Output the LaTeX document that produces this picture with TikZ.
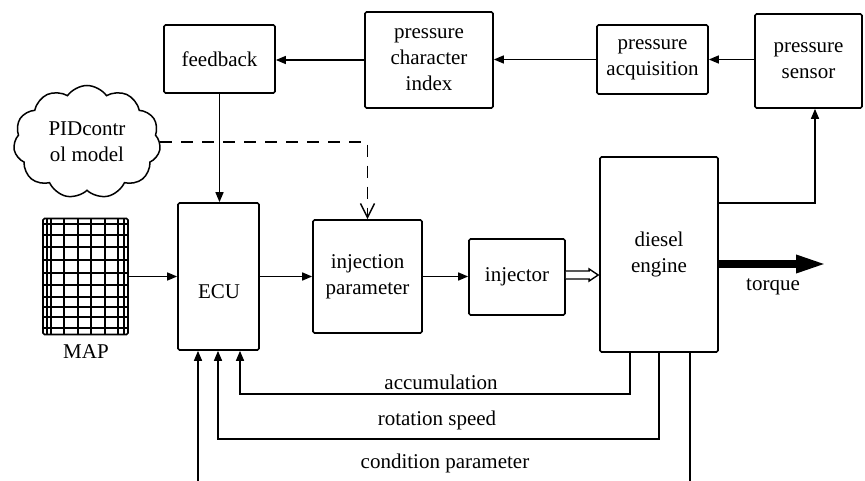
\documentclass[tikz,border=0pt]{standalone}
\usepackage{fontspec}
\setmainfont{Liberation Serif}
\usetikzlibrary{arrows.meta,shapes.symbols,calc}
\begin{document}
\begin{tikzpicture}[x=1pt,y=-1pt,
  txt/.style={font=\fontsize{21}{26}\selectfont},
  box/.style={draw,line width=1.7pt,rounded corners=1.5pt,align=center,inner sep=0pt,txt},
  ln/.style={line width=1.5pt},
  arr/.style={ln,-{Triangle[length=10pt,width=8pt]}}]
\useasboundingbox (0,0) rectangle (865,481);
\clip (0,0) rectangle (865,481);
% boxes
\node[box,minimum width=111pt,minimum height=68pt] (fb) at (219.5,59) {feedback};
\node[box,minimum width=128pt,minimum height=96pt] (pci) at (429,60) {pressure\\character\\index};
\node[box,minimum width=111pt,minimum height=69pt] (acq) at (652.5,59.5) {pressure\\acquisition};
\node[box,minimum width=107pt,minimum height=94pt] (sens) at (808.5,61) {pressure\\sensor};
\node[box,minimum width=81pt,minimum height=147pt] (ecu) at (218.5,276.5) {};
\node[txt] (ecut) at (219,292) {ECU};
\node[box,minimum width=109pt,minimum height=113pt] (ip) at (367.5,276.5) {injection\\parameter};
\node[box,minimum width=96pt,minimum height=76pt] (inj) at (517,277) {injector};
\node[box,minimum width=118pt,minimum height=195pt] (eng) at (659,254.5) {diesel\\engine};
\node[draw,cloud,cloud puffs=11,cloud puff arc=110,aspect=1.3,line width=1.5pt,inner sep=0pt,
      minimum width=147pt,minimum height=113pt,align=center,txt] (pid) at (87,142) {PIDcontr\\ol model};
% MAP grid
\node[draw,line width=1.6pt,rounded corners=1.5pt,minimum width=85pt,minimum height=116pt,inner sep=0pt] (map) at (85.5,276.5) {};
\foreach \gx in {47,51,64,78,91,105,118,124}
  \draw[line width=1.5pt] (\gx,218.5) -- (\gx,334.5);
\foreach \gy in {224,235,247,260,273,285,297,307,317,328}
  \draw[line width=1.5pt] (43,\gy) -- (128,\gy);
\node[txt] (maplbl) at (86,352) {MAP};
% top chain
\draw[arr] (sens.west |- acq.east) -- (acq.east);
\draw[arr] (acq.west) -- (pci.east |- acq.west);
\draw[arr] (pci.west) -- (fb.east |- pci.west);
\draw[arr] (fb.south) -- (fb.south |- ecu.north);
% middle chain
\draw[arr] (map.east) -- (ecu.west |- map.east);
\draw[arr] (ecu.east) -- (ip.west |- ecu.east);
\draw[arr] (ip.east) -- (inj.west |- ip.east);
% dashed from PID
\draw[ln,dash pattern=on 12pt off 9pt,-{Straight Barb[length=14pt,width=14pt]}] (pid.east) -| (ip.north);
% hollow arrow injector -> engine
\coordinate (h1) at ($(inj.east)+(0,-2)$);
\coordinate (h2) at (eng.west |- h1);
\draw[line width=1.4pt,fill=white,line join=miter] ($(h1)+(0,-4)$) -- ($(h2)+(-10,-4)$) -- ($(h2)+(-10,-6)$) -- ($(h2)+(-1,0)$)
  -- ($(h2)+(-10,6)$) -- ($(h2)+(-10,4)$) -- ($(h1)+(0,4)$);
% torque
\coordinate (tq) at (828,264);
\draw[line width=8pt,-{Triangle[length=32pt,width=16pt]}] (eng.east |- tq) -- (tq);
\node[txt] (tql) at (773,287) {torque};
% engine -> sensor
\draw[arr] (eng.east |- 0,203) -| ($(sens.south)+(6.5,0)$);
% feedback lines at bottom
\draw[arr] ($(eng.south)+(-29,0)$) |- ($(ecu.south)+(21.5,43)$) -- ($(ecu.south)+(21.5,0)$);
\draw[arr] ($(eng.south)+(0,0)$) |- ($(ecu.south)+(-0.5,88)$) -- ($(ecu.south)+(-0.5,0)$);
\draw[arr] ($(eng.south)+(31,0)$) |- ($(ecu.south)+(-20.5,150)$) -- ($(ecu.south)+(-20.5,0)$);
\node[txt] (l1) at (441,382) {accumulation};
\node[txt] (l2) at (437,420) {rotation speed};
\node[txt] (l3) at (445,463) {condition parameter};
\end{tikzpicture}
\end{document}
